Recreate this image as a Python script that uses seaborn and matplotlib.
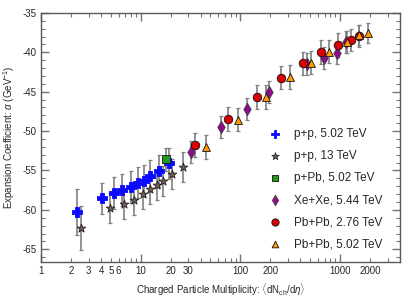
import matplotlib
matplotlib.use('Agg')
import matplotlib.pyplot as plt
import matplotlib.ticker as mticker
import seaborn as sns
import pandas as pd

# values
pp502_x = [2.29, 4.07, 5.41, 6.56, 8.0, 9.44, 10.7, 12.4, 15.1, 19.2]
pp502_y = [-60.3, -58.55, -57.85, -57.5, -57.1, -56.55, -56.3, -55.7, -55.05, -54.1]
pp502_err = [2.9, 2.0, 2.0, 2.0, 2.0, 2.0, 2.0, 2.0, 2.0, 2.0]

pp13_x = [2.54, 4.95, 6.84, 8.51, 10.6, 12.5, 14.45, 16.7, 20.4, 26.4]
pp13_y = [-62.3, -59.8, -59.2, -58.8, -58.0, -57.4, -56.85, -56.35, -55.5, -54.5]
pp13_err = [2.8, 1.9, 1.9, 1.9, 1.9, 1.9, 1.9, 1.9, 1.9, 1.9]

pPb_x = [17.8]
pPb_y = [-53.6]
pPb_err = [1.5]

xexe_x = [31.6, 64.6, 117, 195, 471, 692, 927, 1148]
xexe_y = [-52.6, -49.45, -47.2, -45.0, -41.45, -40.7, -40.05, -38.65]
xexe_err = [1.4, 1.4, 1.4, 1.4, 1.4, 1.4, 1.4, 1.4]

pb276_x = [34.9, 75.3, 148, 255, 424, 641, 951, 1279, 1567]
pb276_y = [-51.8, -48.5, -45.7, -43.2, -41.4, -39.95, -39.05, -38.4, -37.9]
pb276_err = [1.5, 1.5, 1.5, 1.5, 1.5, 1.5, 1.5, 1.4, 1.4]

pb502_x = [44.7, 95.5, 181, 311, 509, 776, 1167, 1567, 1919]
pb502_y = [-52.0, -48.55, -45.65, -43.1, -41.3, -39.9, -38.7, -37.8, -37.55]
pb502_err = [1.5, 1.5, 1.5, 1.5, 1.5, 1.4, 1.4, 1.3, 1.3]

x_labels = [1, 2, 3, 4, 5, 6, 10, 20, 30, 100, 200, 1000, 2000]

sns.set_style('ticks')
plt.rcParams['font.family'] = ['Liberation Sans', 'DejaVu Sans']
plt.rcParams['axes.unicode_minus'] = False
plt.rcParams['mathtext.fontset'] = 'custom'
plt.rcParams['mathtext.rm'] = 'Liberation Sans'
plt.rcParams['mathtext.it'] = 'Liberation Sans:italic'

series = [
    ('p+p, 5.02 TeV', pp502_x, pp502_y, pp502_err, 'P', '#0a0aff', '#0a0aff', 42),
    ('p+p, 13 TeV', pp13_x, pp13_y, pp13_err, '*', '#7a5e52', '#222222', 42),
    ('p+Pb, 5.02 TeV', pPb_x, pPb_y, pPb_err, 's', '#1f9a1f', '#111111', 30),
    ('Xe+Xe, 5.44 TeV', xexe_x, xexe_y, xexe_err, 'd', '#8e0a8e', '#444444', 40),
    ('Pb+Pb, 2.76 TeV', pb276_x, pb276_y, pb276_err, 'o', '#dd0000', '#111111', 38),
    ('Pb+Pb, 5.02 TeV', pb502_x, pb502_y, pb502_err, '^', '#ff9a00', '#111111', 32),
]

fig, ax = plt.subplots(figsize=(4.15, 3.0), dpi=100)
fig.subplots_adjust(left=0.099, right=0.964, top=0.957, bottom=0.127)

for label, xs, ys, errs, mk, fc, ec, sz in series:
    df = pd.DataFrame({'x': xs, 'y': ys})
    # error bars: grey body with black caps
    _, caps, _ = ax.errorbar(xs, ys, yerr=errs, fmt='none', ecolor='0.5',
                             elinewidth=1.2, capsize=1.5, capthick=0.9, zorder=2)
    for c in caps:
        c.set_color('black')
    sns.scatterplot(data=df, x='x', y='y', marker=mk, s=sz, color=fc,
                    edgecolor=ec, linewidth=0.6, label=label, ax=ax, zorder=3)

ax.set_xscale('log')
ax.set_xlim(1, 4000)
ax.set_ylim(-66.6, -35)

ax.xaxis.set_major_locator(mticker.LogLocator(base=10))
ax.xaxis.set_minor_locator(mticker.LogLocator(base=10, subs=range(2, 10)))
fmt = lambda v, pos: str(int(round(v))) if int(round(v)) in x_labels else ''
ax.xaxis.set_major_formatter(mticker.FuncFormatter(fmt))
ax.xaxis.set_minor_formatter(mticker.FuncFormatter(fmt))
ax.yaxis.set_major_locator(mticker.MultipleLocator(5))
ax.yaxis.set_minor_locator(mticker.MultipleLocator(1))

ax.tick_params(which='both', direction='in', top=True, right=True,
               labelsize=7, color='0.45', pad=3)
ax.tick_params(which='major', length=6, width=1.0)
ax.tick_params(which='minor', length=3, width=0.8)
ax.tick_params(axis='x', which='minor', labelsize=7, pad=3)
for s in ax.spines.values():
    s.set_color('0.35')
    s.set_linewidth(1.0)

ax.set_xlabel(r'Charged Particle Multiplicity: $\langle$dN$_{\rm ch}$/d$\eta\rangle$',
              fontsize=7)
ax.set_ylabel(r'Expansion Coefficient: $\alpha$ (GeV$^{-1}$)', fontsize=7)

ax.legend(loc='lower right', bbox_to_anchor=(0.985, 0.0), frameon=False,
          fontsize=8.5, labelspacing=0.85, handletextpad=0.6, borderaxespad=0.6,
          markerscale=0.85)

plt.savefig('out.png', dpi=100)
